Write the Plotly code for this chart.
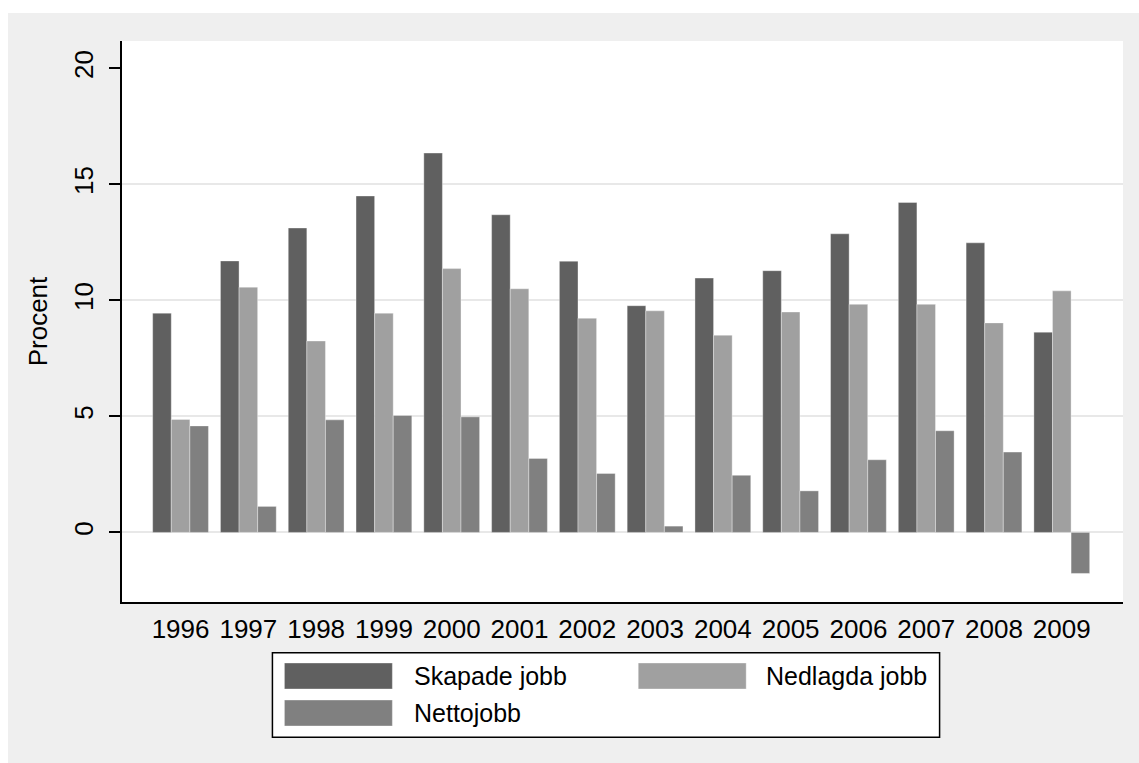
import plotly.graph_objects as go

# ---- data ----
years = ["1996", "1997", "1998", "1999", "2000", "2001", "2002",
         "2003", "2004", "2005", "2006", "2007", "2008", "2009"]
skapade = [9.45, 11.70, 13.12, 14.50, 16.35, 13.69, 11.69, 9.77, 10.96, 11.28, 12.87, 14.22, 12.48, 8.63]
nedlagda = [4.87, 10.57, 8.25, 9.45, 11.37, 10.50, 9.23, 9.55, 8.50, 9.50, 9.83, 9.83, 9.03, 10.41]
netto = [4.59, 1.12, 4.85, 5.04, 4.98, 3.19, 2.54, 0.27, 2.46, 1.79, 3.13, 4.38, 3.46, -1.77]
series_names = ["Skapade jobb", "Nedlagda jobb", "Nettojobb"]
series_colors = ["#606060", "#a0a0a0", "#808080"]
y_ticks = [0, 5, 10, 15, 20]
grid_ticks = [0, 5, 10, 15]

FONT = "Liberation Sans, Arial, sans-serif"
W, H = 1139, 763
L, R, T, B = 122, 15.5, 41, 161
PW, PH = W - L - R, H - T - B


def px(x):
    return (x - L) / PW


def py(y):
    return (H - B - y) / PH


fig = go.Figure()
for name, vals, col in zip(series_names, [skapade, nedlagda, netto], series_colors):
    fig.add_trace(go.Bar(
        x=years, y=vals, name=name,
        marker=dict(color=col, line=dict(color="rgba(255,255,255,0.35)", width=1)),
        showlegend=False,
    ))

# invisible helper trace so the grid axis is drawn
fig.add_trace(go.Scatter(x=[years[0]], y=[0], yaxis="y2", mode="markers",
                         marker=dict(opacity=0), showlegend=False, hoverinfo="skip"))

shapes = [
    # white page strips (top / left) around the gray graph region
    dict(type="rect", xref="paper", yref="paper", x0=px(-5), x1=px(W + 5), y0=py(13), y1=py(-5),
         fillcolor="white", line=dict(width=0), layer="below"),
    dict(type="rect", xref="paper", yref="paper", x0=px(-5), x1=px(8), y0=py(H + 5), y1=py(-5),
         fillcolor="white", line=dict(width=0), layer="below"),
    # legend box
    dict(type="rect", xref="paper", yref="paper", x0=px(272.5), x1=px(940), y0=py(737.3), y1=py(652.7),
         fillcolor="white", line=dict(color="black", width=1.5)),
]
annotations = []
legend_slots = [(284.5, 663, 412), (638.5, 663, 764), (284.5, 700, 412)]
for (sx, sy, tx), name, col in zip(legend_slots, series_names, series_colors):
    shapes.append(dict(type="rect", xref="paper", yref="paper",
                       x0=px(sx), x1=px(sx + 108), y0=py(sy + 26), y1=py(sy),
                       fillcolor=col, line=dict(color="rgba(255,255,255,0.35)", width=1)))
    annotations.append(dict(xref="paper", yref="paper", x=px(tx), y=py(sy + 13),
                            xanchor="left", yanchor="middle", text=name, showarrow=False,
                            font=dict(family=FONT, size=25, color="black")))

fig.update_layout(
    width=W, height=H,
    margin=dict(l=L, r=R, t=T, b=B, autoexpand=False),
    paper_bgcolor="#efefef",
    plot_bgcolor="white",
    barmode="group", bargap=0.177, bargroupgap=0,
    font=dict(family=FONT, color="black"),
    xaxis=dict(type="category", range=[-0.864, 13.903], showline=True, linecolor="black",
               linewidth=1.5, ticks="", showgrid=False, zeroline=False,
               tickfont=dict(size=26), ticklabelstandoff=3),
    yaxis=dict(range=[-3.0, 21.18], tickvals=y_ticks, showgrid=False, zeroline=False,
               showline=True, linecolor="black", linewidth=1.5, ticks="outside",
               ticklen=11, tickwidth=1.5, tickcolor="black", tickangle=-90,
               tickfont=dict(size=26), ticklabelstandoff=6,
               title=dict(text="Procent", font=dict(size=26), standoff=14)),
    yaxis2=dict(overlaying="y", matches="y", tickvals=grid_ticks, showgrid=True,
                gridcolor="#e8e8e8", gridwidth=1.5, showticklabels=False, ticks="",
                showline=False, zeroline=False, side="left"),
    shapes=shapes,
    annotations=annotations,
)

fig.write_html("out.html", post_script="document.body.style.margin='0';",
               config={"displayModeBar": False})
